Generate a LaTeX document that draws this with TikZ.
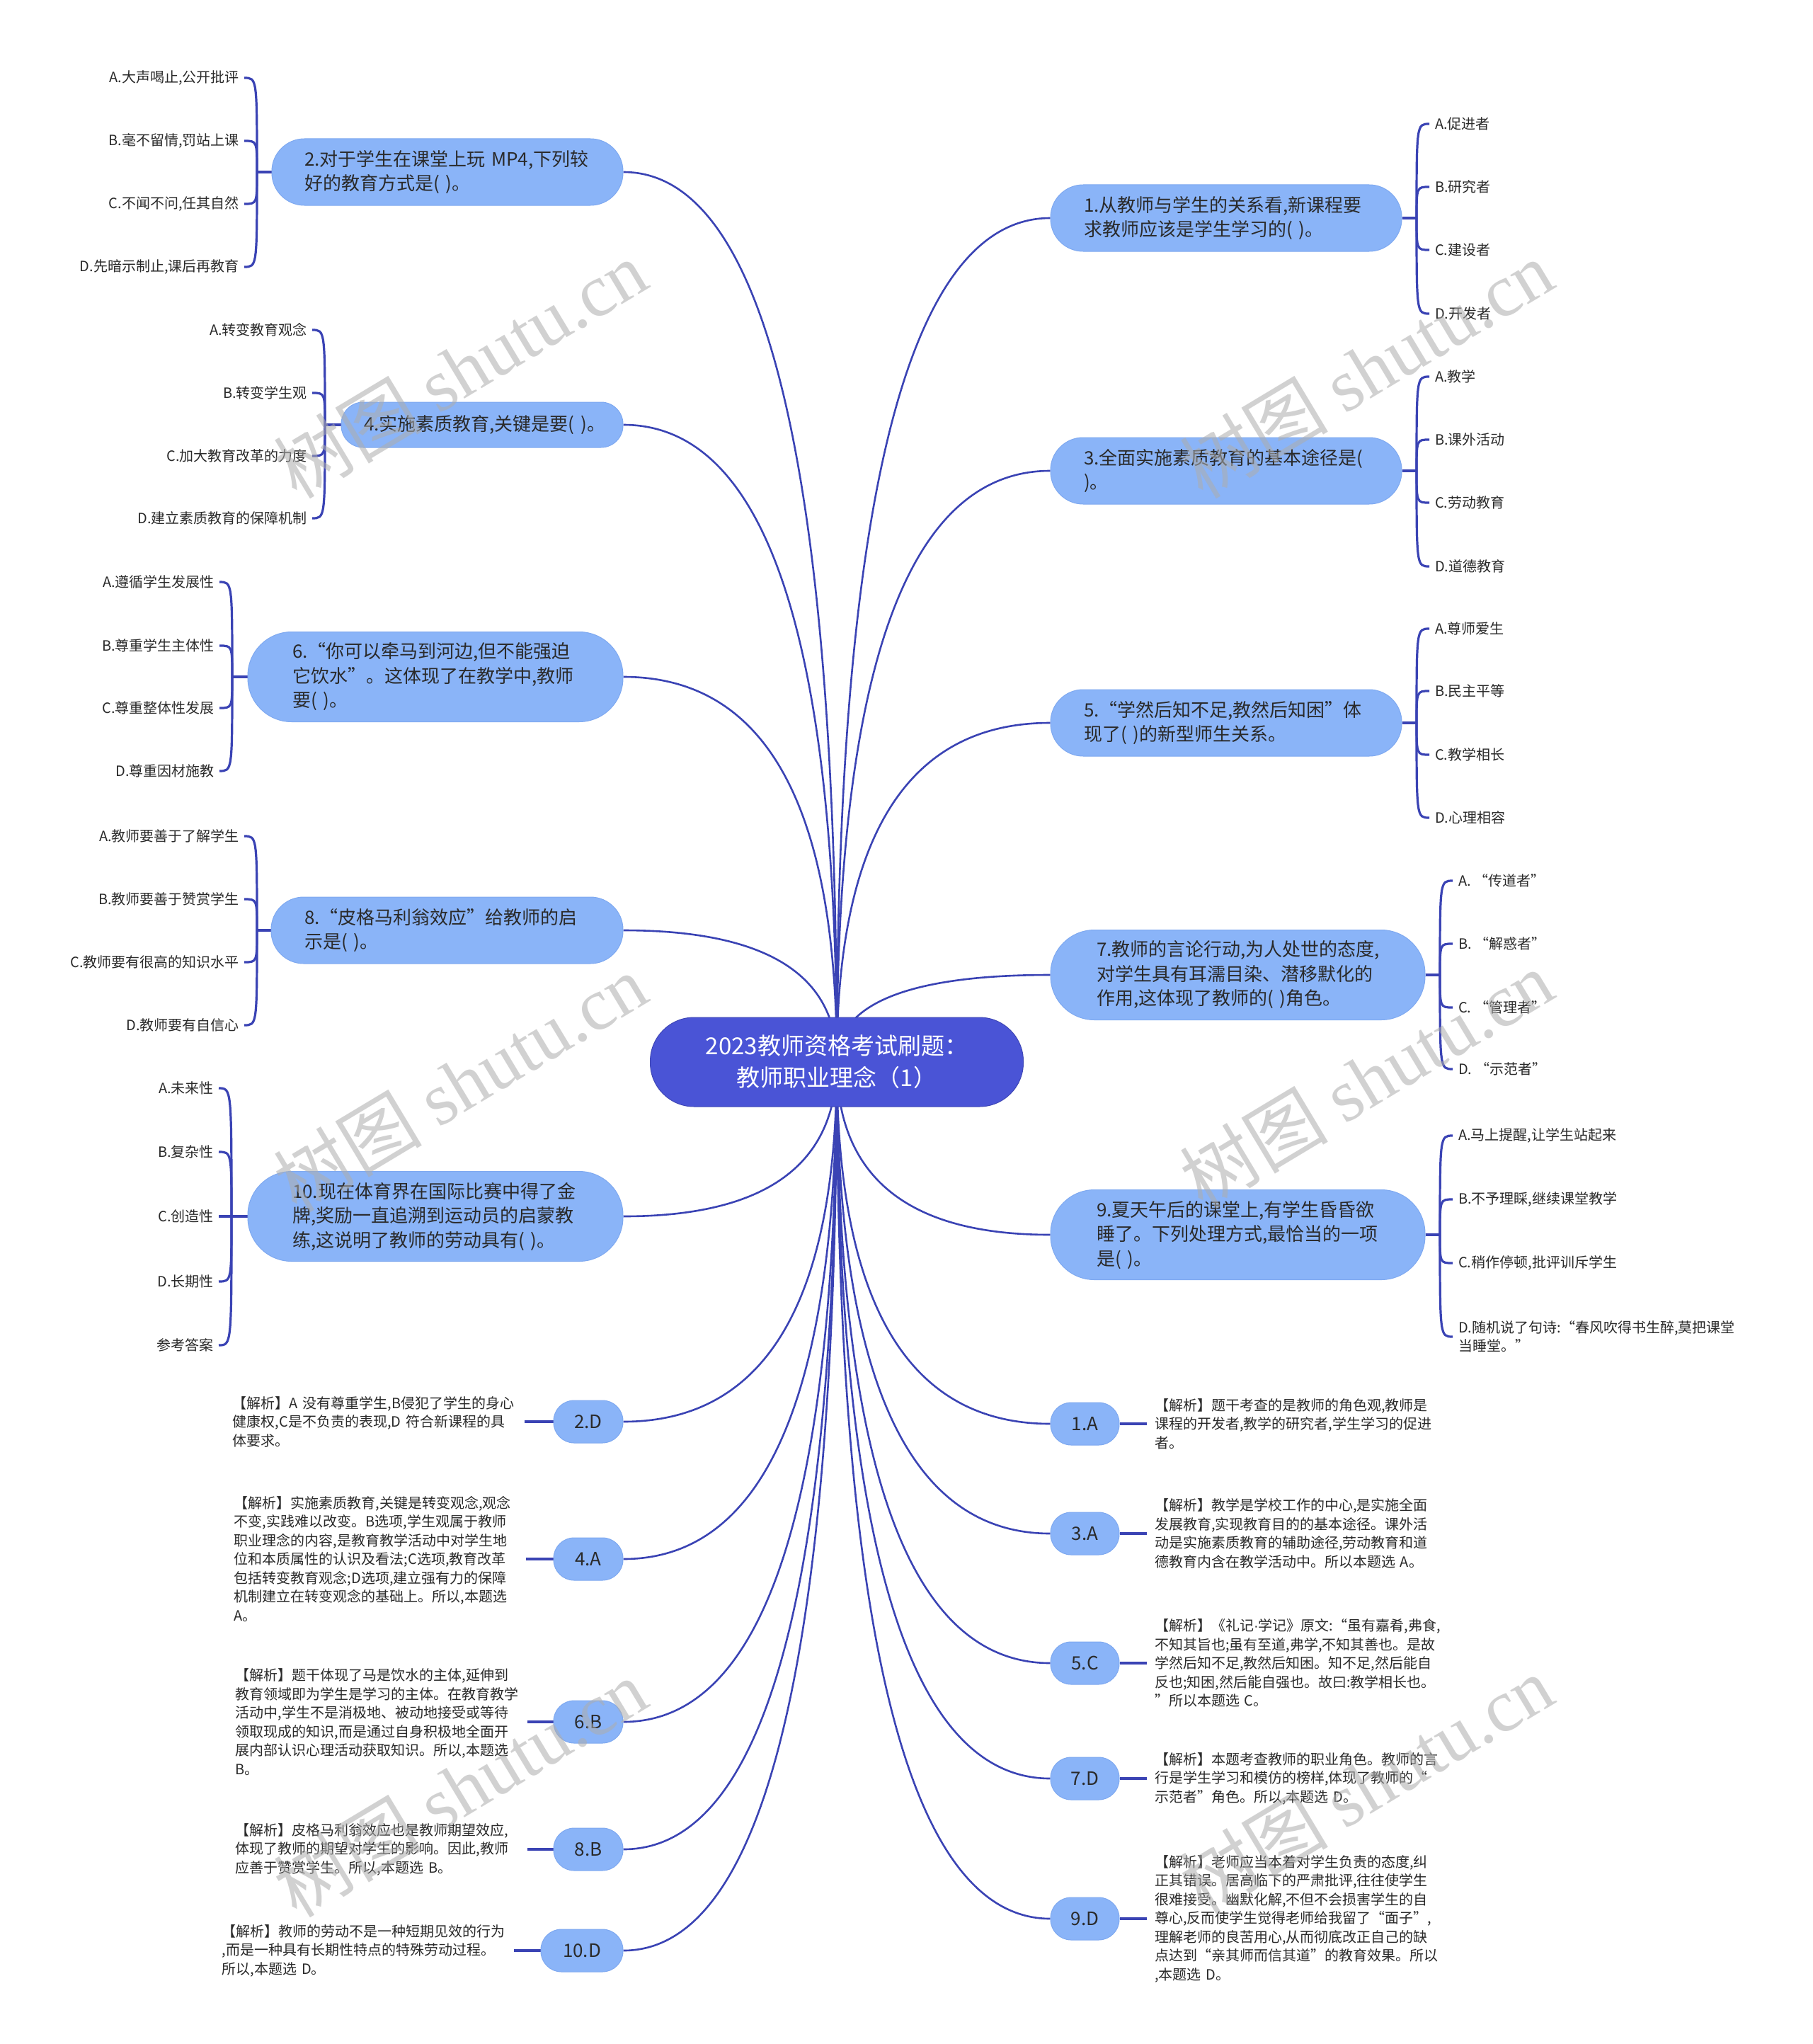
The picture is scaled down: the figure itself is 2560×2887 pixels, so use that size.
\documentclass[tikz,border=0pt]{standalone}
\usepackage{fontspec}
\setmainfont{Noto Sans CJK SC}
\newfontfamily\fwq{Noto Sans CJK SC}[RawFeature=+fwid]
\newfontfamily\wmlat{Liberation Serif}
\newfontfamily\latsans{Liberation Sans}
\newcommand{\zlq}{{\fwq “}}
\newcommand{\zrq}{{\fwq ”}}
\usetikzlibrary{calc,backgrounds}
\definecolor{qfill}{HTML}{8AB4F8}
\definecolor{qedge}{HTML}{7FA9F0}
\definecolor{rootfill}{HTML}{4A54D6}
\definecolor{lnk}{HTML}{3A43B4}
\definecolor{txt}{HTML}{2A2A2A}
\tikzset{
  qnode/.style={rectangle, fill=qfill, draw=qedge, line width=1pt, inner sep=0pt, text=txt, align=left, font=\fontsize{26}{34.5}\selectfont},
  lineone/.style={minimum height=64pt, rounded corners=31pt},
  linetwo/.style={minimum height=94pt, rounded corners=46pt},
  linethree/.style={minimum height=127pt, rounded corners=62pt},
  ansnode/.style={rectangle, fill=qfill, draw=qedge, line width=1pt, inner sep=0pt, text=txt, minimum height=60pt, rounded corners=29pt, font=\fontsize{26}{30}\selectfont},
  rootnode/.style={rectangle, fill=rootfill, draw=rootfill!85!black, line width=1pt, minimum width=527pt, minimum height=126pt, rounded corners=62pt, text=white, align=center, font=\fontsize{33}{45}\selectfont},
  optl/.style={anchor=east, inner xsep=7pt, inner ysep=2pt, text=txt, align=right, font=\fontsize{20}{26.5}\selectfont},
  optr/.style={anchor=west, inner xsep=8pt, inner ysep=2pt, text=txt, align=left, font=\fontsize{20}{26.5}\selectfont},
  expl/.style={anchor=east, inner xsep=12pt, inner ysep=0pt, text width=400pt, align=left, text=txt, font=\fontsize{20}{26.5}\selectfont},
  expr/.style={anchor=west, inner xsep=11pt, inner ysep=0pt, text width=400pt, align=left, text=txt, font=\fontsize{20}{26.5}\selectfont},
  conn/.style={draw=lnk, line width=2.6pt},
  brk/.style={draw=lnk, line width=3.2pt},
  wm/.style={text=black!32, opacity=0.55, font=\fontsize{105}{110}\selectfont, inner sep=0pt},
}
\newcommand{\mlink}[1]{\draw[conn] (root.center) .. controls ($(root.center)!0.6667!(root.center|-#1)$) and ($(#1)!0.6667!(root.center|-#1)$) .. (#1);}
\newcommand{\olink}[2]{\draw[brk] (#1) .. controls (#1|-#2) .. (#2);}
\begin{document}
\begin{tikzpicture}[x=1pt,y=-1pt]
\useasboundingbox (0,0) rectangle (2560,2887);
% root
\node[rootnode] (root) at (1182,1500) {2023教师资格考试刷题：\\教师职业理念（1）};
% left questions
\node[qnode,linetwo,minimum width=496pt,text width=404pt] (q2) at (632,243) {2.对于学生在课堂上玩~MP4,下列较\\好的教育方式是(~)。};
\node[qnode,lineone,minimum width=398pt,text width=334pt] (q4) at (681,600) {4.实施素质教育,关键是要(~)。};
\node[qnode,linethree,minimum width=530pt,text width=404pt] (q6) at (615,956) {6.\zlq 你可以牵马到河边,但不能强迫\\它饮水\zrq 。这体现了在教学中,教师\\要(~)。};
\node[qnode,linetwo,minimum width=497pt,text width=403pt] (q8) at (631.5,1314) {8.\zlq 皮格马利翁效应\zrq 给教师的启\\示是(~)。};
\node[qnode,linethree,minimum width=530pt,text width=404pt] (q10) at (615,1718) {10.现在体育界在国际比赛中得了金\\牌,奖励一直追溯到运动员的启蒙教\\练,这说明了教师的劳动具有(~)。};
% right questions
\node[qnode,linetwo,minimum width=496pt,text width=402pt] (q1) at (1732,308) {1.从教师与学生的关系看,新课程要\\求教师应该是学生学习的(~)。};
\node[qnode,linetwo,minimum width=496pt,text width=402pt] (q3) at (1732,665) {3.全面实施素质教育的基本途径是(\\)。};
\node[qnode,linetwo,minimum width=496pt,text width=402pt] (q5) at (1732,1021) {5.\zlq 学然后知不足,教然后知困\zrq 体\\现了(~)的新型师生关系。};
\node[qnode,linethree,minimum width=529pt,text width=399pt] (q7) at (1748.5,1377) {7.教师的言论行动,为人处世的态度,\\对学生具有耳濡目染、潜移默化的\\作用,这体现了教师的(~)角色。};
\node[qnode,linethree,minimum width=529pt,text width=399pt] (q9) at (1748.5,1744) {9.夏天午后的课堂上,有学生昏昏欲\\睡了。下列处理方式,最恰当的一项\\是(~)。};
% bracket points
\coordinate (b2) at (363,243);
\coordinate (b4) at (459,600);
\coordinate (b6) at (328,956);
\coordinate (b8) at (363,1314);
\coordinate (b10) at (327,1718);
\coordinate (b1) at (2001,308);
\coordinate (b3) at (2001,665);
\coordinate (b5) at (2001,1021);
\coordinate (b7) at (2034,1377);
\coordinate (b9) at (2034,1744);
% left options
\node[optl] (o2a) at (345,110) {A.大声喝止,公开批评};
\node[optl] (o2b) at (345,199) {B.毫不留情,罚站上课};
\node[optl] (o2c) at (345,288) {C.不闻不问,任其自然};
\node[optl] (o2d) at (345,377) {D.先暗示制止,课后再教育};
\node[optl] (o4a) at (441,466) {A.转变教育观念};
\node[optl] (o4b) at (441,555) {B.转变学生观};
\node[optl] (o4c) at (441,644) {C.加大教育改革的力度};
\node[optl] (o4d) at (441,732) {D.建立素质教育的保障机制};
\node[optl] (o6a) at (310,822) {A.遵循学生发展性};
\node[optl] (o6b) at (310,912) {B.尊重学生主体性};
\node[optl] (o6c) at (310,1000) {C.尊重整体性发展};
\node[optl] (o6d) at (310,1089) {D.尊重因材施教};
\node[optl] (o8a) at (345,1181) {A.教师要善于了解学生};
\node[optl] (o8b) at (345,1270) {B.教师要善于赞赏学生};
\node[optl] (o8c) at (345,1359) {C.教师要有很高的知识水平};
\node[optl] (o8d) at (345,1448) {D.教师要有自信心};
\node[optl] (o10a) at (309,1537) {A.未来性};
\node[optl] (o10b) at (309,1627) {B.复杂性};
\node[optl] (o10c) at (309,1718) {C.创造性};
\node[optl] (o10d) at (309,1810) {D.长期性};
\node[optl] (o10e) at (309,1900) {参考答案};
% right options
\node[optr] (o1a) at (2019,175) {A.促进者};
\node[optr] (o1b) at (2019,264) {B.研究者};
\node[optr] (o1c) at (2019,353) {C.建设者};
\node[optr] (o1d) at (2019,443) {D.开发者};
\node[optr] (o3a) at (2019,532) {A.教学};
\node[optr] (o3b) at (2019,621) {B.课外活动};
\node[optr] (o3c) at (2019,710) {C.劳动教育};
\node[optr] (o3d) at (2019,800) {D.道德教育};
\node[optr] (o5a) at (2019,888) {A.尊师爱生};
\node[optr] (o5b) at (2019,976) {B.民主平等};
\node[optr] (o5c) at (2019,1066) {C.教学相长};
\node[optr] (o5d) at (2019,1155) {D.心理相容};
\node[optr] (o7a) at (2052,1244) {A. “传道者”};
\node[optr] (o7b) at (2052,1333) {B. “解惑者”};
\node[optr] (o7c) at (2052,1423) {C. “管理者”};
\node[optr] (o7d) at (2052,1510) {D. “示范者”};
\node[optr] (o9a) at (2052,1604) {A.马上提醒,让学生站起来};
\node[optr] (o9b) at (2052,1694) {B.不予理睬,继续课堂教学};
\node[optr] (o9c) at (2052,1784) {C.稍作停顿,批评训斥学生};
\node[optr] (o9d) at (2052,1888) {D.随机说了句诗:\zlq 春风吹得书生醉,莫把课堂\\当睡堂。\zrq};
% answer nodes
\node[ansnode,minimum width=98pt] (a2) at (831,2008) {2.D};
\node[ansnode,minimum width=98pt] (a4) at (831,2202) {4.A};
\node[ansnode,minimum width=98pt] (a6) at (831,2432) {6.B};
\node[ansnode,minimum width=98pt] (a8) at (831,2612) {8.B};
\node[ansnode,minimum width=116pt] (a10) at (822,2755) {10.D};
\node[ansnode,minimum width=97pt] (a1) at (1532.5,2011) {1.A};
\node[ansnode,minimum width=97pt] (a3) at (1532.5,2166) {3.A};
\node[ansnode,minimum width=97pt] (a5) at (1532.5,2349) {5.C};
\node[ansnode,minimum width=97pt] (a7) at (1532.5,2512) {7.D};
\node[ansnode,minimum width=97pt] (a9) at (1532.5,2710) {9.D};
% explanations
\node[expl] (t2) at (741,2008) {【解析】A~没有尊重学生,B侵犯了学生的身心\\健康权,C是不负责的表现,D~符合新课程的具\\体要求。};
\node[expl] (t4) at (743,2202) {【解析】实施素质教育,关键是转变观念,观念\\不变,实践难以改变。B选项,学生观属于教师\\职业理念的内容,是教育教学活动中对学生地\\位和本质属性的认识及看法;C选项,教育改革\\包括转变教育观念;D选项,建立强有力的保障\\机制建立在转变观念的基础上。所以,本题选\\A。};
\node[expl] (t6) at (745,2432) {【解析】题干体现了马是饮水的主体,延伸到\\教育领域即为学生是学习的主体。在教育教学\\活动中,学生不是消极地、被动地接受或等待\\领取现成的知识,而是通过自身积极地全面开\\展内部认识心理活动获取知识。所以,本题选\\B。};
\node[expl] (t8) at (745,2612) {【解析】皮格马利翁效应也是教师期望效应,\\体现了教师的期望对学生的影响。因此,教师\\应善于赞赏学生。所以,本题选~B。};
\node[expl] (t10) at (726,2755) {【解析】教师的劳动不是一种短期见效的行为\\,而是一种具有长期性特点的特殊劳动过程。\\所以,本题选~D。};
\node[expr] (t1) at (1620,2011) {【解析】题干考查的是教师的角色观,教师是\\课程的开发者,教学的研究者,学生学习的促进\\者。};
\node[expr] (t3) at (1620,2166) {【解析】教学是学校工作的中心,是实施全面\\发展教育,实现教育目的的基本途径。课外活\\动是实施素质教育的辅助途径,劳动教育和道\\德教育内含在教学活动中。所以本题选~A。};
\node[expr] (t5) at (1620,2349) {【解析】《礼记{\latsans ·}学记》原文:\zlq 虽有嘉肴,弗食,\\不知其旨也;虽有至道,弗学,不知其善也。是故\\学然后知不足,教然后知困。知不足,然后能自\\反也;知困,然后能自强也。故曰:教学相长也。\\\zrq 所以本题选~C。};
\node[expr] (t7) at (1620,2512) {【解析】本题考查教师的职业角色。教师的言\\行是学生学习和模仿的榜样,体现了教师的\zlq\\示范者\zrq 角色。所以,本题选~D。};
\node[expr] (t9) at (1620,2710) {【解析】老师应当本着对学生负责的态度,纠\\正其错误。居高临下的严肃批评,往往使学生\\很难接受。幽默化解,不但不会损害学生的自\\尊心,反而使学生觉得老师给我留了\zlq 面子\zrq,\\理解老师的良苦用心,从而彻底改正自己的缺\\点达到\zlq 亲其师而信其道\zrq 的教育效果。所以\\,本题选~D。};
% connectors
\begin{scope}[on background layer]
\fill[white] (0,0) rectangle (2560,2887);
\mlink{q2.east}
\mlink{q4.east}
\mlink{q6.east}
\mlink{q8.east}
\mlink{q10.east}
\mlink{q1.west}
\mlink{q3.west}
\mlink{q5.west}
\mlink{q7.west}
\mlink{q9.west}
\mlink{a2.east}
\mlink{a4.east}
\mlink{a6.east}
\mlink{a8.east}
\mlink{a10.east}
\mlink{a1.west}
\mlink{a3.west}
\mlink{a5.west}
\mlink{a7.west}
\mlink{a9.west}
% brackets
\draw[brk] (q2.west) -- (b2);
\draw[brk] (q4.west) -- (b4);
\draw[brk] (q6.west) -- (b6);
\draw[brk] (q8.west) -- (b8);
\draw[brk] (q10.west) -- (b10);
\draw[brk] (q1.east) -- (b1);
\draw[brk] (q3.east) -- (b3);
\draw[brk] (q5.east) -- (b5);
\draw[brk] (q7.east) -- (b7);
\draw[brk] (q9.east) -- (b9);
\olink{b2}{o2a.east}\olink{b2}{o2b.east}\olink{b2}{o2c.east}\olink{b2}{o2d.east}
\olink{b4}{o4a.east}\olink{b4}{o4b.east}\olink{b4}{o4c.east}\olink{b4}{o4d.east}
\olink{b6}{o6a.east}\olink{b6}{o6b.east}\olink{b6}{o6c.east}\olink{b6}{o6d.east}
\olink{b8}{o8a.east}\olink{b8}{o8b.east}\olink{b8}{o8c.east}\olink{b8}{o8d.east}
\olink{b10}{o10a.east}\olink{b10}{o10b.east}\olink{b10}{o10c.east}\olink{b10}{o10d.east}\olink{b10}{o10e.east}
\olink{b1}{o1a.west}\olink{b1}{o1b.west}\olink{b1}{o1c.west}\olink{b1}{o1d.west}
\olink{b3}{o3a.west}\olink{b3}{o3b.west}\olink{b3}{o3c.west}\olink{b3}{o3d.west}
\olink{b5}{o5a.west}\olink{b5}{o5b.west}\olink{b5}{o5c.west}\olink{b5}{o5d.west}
\olink{b7}{o7a.west}\olink{b7}{o7b.west}\olink{b7}{o7c.west}\olink{b7}{o7d.west}
\olink{b9}{o9a.west}\olink{b9}{o9b.west}\olink{b9}{o9c.west}\olink{b9}{o9d.west}
% answer text links
\draw[brk] (t2.east) -- (a2.west);
\draw[brk] (t4.east) -- (a4.west);
\draw[brk] (t6.east) -- (a6.west);
\draw[brk] (t8.east) -- (a8.west);
\draw[brk] (t10.east) -- (a10.west);
\draw[brk] (a1.east) -- (t1.west);
\draw[brk] (a3.east) -- (t3.west);
\draw[brk] (a5.east) -- (t5.west);
\draw[brk] (a7.east) -- (t7.west);
\draw[brk] (a9.east) -- (t9.west);
\end{scope}
% watermarks
\node[wm,rotate=31] (wm1) at (650,521) {树图 {\wmlat shutu.cn}};
\node[wm,rotate=31] (wm2) at (1930,521) {树图 {\wmlat shutu.cn}};
\node[wm,rotate=31] (wm3) at (650,1529) {树图 {\wmlat shutu.cn}};
\node[wm,rotate=31] (wm4) at (1930,1524) {树图 {\wmlat shutu.cn}};
\node[wm,rotate=31] (wm5) at (650,2525) {树图 {\wmlat shutu.cn}};
\node[wm,rotate=31] (wm6) at (1930,2520) {树图 {\wmlat shutu.cn}};
\end{tikzpicture}
\end{document}
